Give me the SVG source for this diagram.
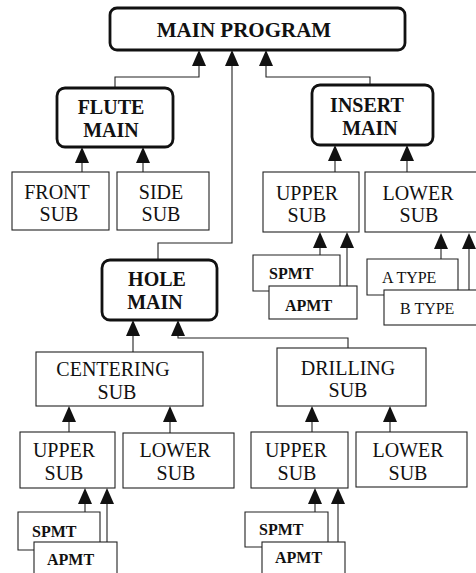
<svg xmlns="http://www.w3.org/2000/svg" xmlns:xlink="http://www.w3.org/1999/xlink" width="476" height="573" viewBox="0 0 476 573">
  <style>
    .main { fill: #fff; stroke: #111; stroke-width: 2.8; }
    .sub { fill: #fff; stroke: #222; stroke-width: 1.1; }
    .wire { fill: none; stroke: #222; stroke-width: 1.1; }
    .t { font-family: "Liberation Serif", "Times New Roman", serif; font-size: 20px; fill: #111; text-anchor: middle; }
    .b { font-weight: bold; }
    .s { font-family: "Liberation Serif", "Times New Roman", serif; font-size: 16px; fill: #111; }
  </style>
  <defs>
    <path id="ah" d="M0,0 L-7,16 L7,16 Z" fill="#111"/>
  </defs>

  <!-- connectors -->
  <g id="connectors">
    <path class="wire" d="M199,66 V77 H115 V88"/>
    <path class="wire" d="M266,66 V77 H370 V85"/>
    <path class="wire" d="M232,66 V243 H158 V260"/>
    <path class="wire" d="M82,163 V172 M143,163 V172"/>
    <path class="wire" d="M335,161 V172 M407,161 V172"/>
    <path class="wire" d="M320,248 V255 M347,248 V286"/>
    <path class="wire" d="M441,249 V259 M469,249 V290"/>
    <path class="wire" d="M133,336 V352"/>
    <path class="wire" d="M178,336 V338 H348 V348"/>
    <path class="wire" d="M69,422 V432 M170,422 V433"/>
    <path class="wire" d="M312,422 V432 M390,422 V432"/>
    <path class="wire" d="M85,504 V512 M107,504 V542"/>
    <path class="wire" d="M315,504 V512 M338,504 V542"/>
    <use xlink:href="#ah" x="199" y="50"/>
    <use xlink:href="#ah" x="232" y="50"/>
    <use xlink:href="#ah" x="266" y="50"/>
    <use xlink:href="#ah" x="82" y="147"/>
    <use xlink:href="#ah" x="143" y="147"/>
    <use xlink:href="#ah" x="335" y="145"/>
    <use xlink:href="#ah" x="407" y="145"/>
    <use xlink:href="#ah" x="320" y="232"/>
    <use xlink:href="#ah" x="347" y="232"/>
    <use xlink:href="#ah" x="441" y="233"/>
    <use xlink:href="#ah" x="469" y="233"/>
    <use xlink:href="#ah" x="133" y="320"/>
    <use xlink:href="#ah" x="178" y="320"/>
    <use xlink:href="#ah" x="69" y="406"/>
    <use xlink:href="#ah" x="170" y="406"/>
    <use xlink:href="#ah" x="312" y="406"/>
    <use xlink:href="#ah" x="390" y="406"/>
    <use xlink:href="#ah" x="85" y="488"/>
    <use xlink:href="#ah" x="107" y="488"/>
    <use xlink:href="#ah" x="315" y="488"/>
    <use xlink:href="#ah" x="338" y="488"/>
  </g>

  <g id="main-program">
    <rect class="main" x="110" y="8" width="295" height="42" rx="7"/>
    <text class="t b" x="244" y="37" style="font-size:21px">MAIN PROGRAM</text>
  </g>

  <g id="flute-main">
    <rect class="main" x="57" y="88" width="116" height="59" rx="8"/>
    <text class="t b" x="111" y="114">FLUTE</text>
    <text class="t b" x="111" y="136.5">MAIN</text>
  </g>
  <g id="flute-front-sub">
    <rect class="sub" x="12" y="172" width="97" height="58"/>
    <text class="t" x="57" y="198.5">FRONT</text>
    <text class="t" x="59" y="221">SUB</text>
  </g>
  <g id="flute-side-sub">
    <rect class="sub" x="117" y="172" width="92" height="58"/>
    <text class="t" x="161" y="198.5">SIDE</text>
    <text class="t" x="161" y="221">SUB</text>
  </g>

  <g id="insert-main">
    <rect class="main" x="312" y="85" width="121" height="60" rx="8"/>
    <text class="t b" x="367" y="112">INSERT</text>
    <text class="t b" x="370" y="134.5">MAIN</text>
  </g>
  <g id="insert-upper-sub">
    <rect class="sub" x="263" y="172" width="96" height="60"/>
    <text class="t" x="307" y="199.5">UPPER</text>
    <text class="t" x="307" y="222">SUB</text>
  </g>
  <g id="insert-lower-sub">
    <rect class="sub" x="365" y="172" width="120" height="60"/>
    <text class="t" x="418" y="199.5">LOWER</text>
    <text class="t" x="419" y="222">SUB</text>
  </g>
  <g id="insert-spmt">
    <path class="wire" d="M269,291 H253 V255 H340 V286"/>
    <text class="s b" x="269" y="279">SPMT</text>
  </g>
  <g id="insert-apmt">
    <rect class="sub" x="269" y="286" width="88" height="33"/>
    <text class="s b" x="285" y="311">APMT</text>
  </g>
  <g id="insert-a-type">
    <path class="wire" d="M384,295 H367 V259 H458 V290"/>
    <text class="s" x="382" y="283">A TYPE</text>
  </g>
  <g id="insert-b-type">
    <rect class="sub" x="384" y="290" width="100" height="35"/>
    <text class="s" x="400" y="314">B TYPE</text>
  </g>

  <g id="hole-main">
    <rect class="main" x="102" y="260" width="115" height="60" rx="8"/>
    <text class="t b" x="157" y="286">HOLE</text>
    <text class="t b" x="155" y="308.5">MAIN</text>
  </g>
  <g id="centering-sub">
    <rect class="sub" x="36" y="352" width="167" height="54"/>
    <text class="t" x="113" y="376">CENTERING</text>
    <text class="t" x="117" y="398.5">SUB</text>
  </g>
  <g id="drilling-sub">
    <rect class="sub" x="277" y="348" width="149" height="58"/>
    <text class="t" x="348" y="374.5">DRILLING</text>
    <text class="t" x="348" y="397">SUB</text>
  </g>

  <g id="centering-upper-sub">
    <rect class="sub" x="20" y="432" width="95" height="56"/>
    <text class="t" x="64" y="457">UPPER</text>
    <text class="t" x="64" y="479.5">SUB</text>
  </g>
  <g id="centering-lower-sub">
    <rect class="sub" x="123" y="433" width="111" height="55"/>
    <text class="t" x="175" y="457">LOWER</text>
    <text class="t" x="176" y="479.5">SUB</text>
  </g>
  <g id="centering-spmt">
    <path class="wire" d="M34,550 H18 V512 H100 V542"/>
    <text class="s b" x="32" y="537">SPMT</text>
  </g>
  <g id="centering-apmt">
    <rect class="sub" x="34" y="542" width="83" height="40"/>
    <text class="s b" x="47" y="565">APMT</text>
  </g>

  <g id="drilling-upper-sub">
    <rect class="sub" x="251" y="432" width="97" height="56"/>
    <text class="t" x="296" y="457">UPPER</text>
    <text class="t" x="297" y="479.5">SUB</text>
  </g>
  <g id="drilling-lower-sub">
    <rect class="sub" x="356" y="432" width="111" height="55"/>
    <text class="t" x="408" y="457">LOWER</text>
    <text class="t" x="408" y="479.5">SUB</text>
  </g>
  <g id="drilling-spmt">
    <path class="wire" d="M262,547 H245 V512 H328 V542"/>
    <text class="s b" x="259" y="535">SPMT</text>
  </g>
  <g id="drilling-apmt">
    <rect class="sub" x="262" y="542" width="83" height="40"/>
    <text class="s b" x="275" y="563">APMT</text>
  </g>
</svg>
